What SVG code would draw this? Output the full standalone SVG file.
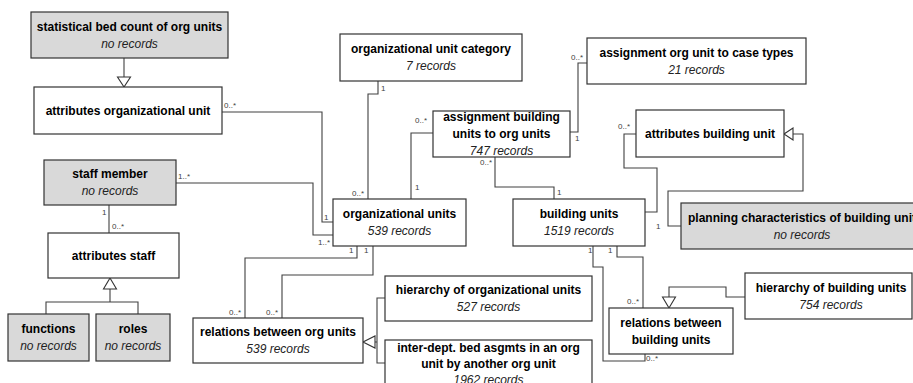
<svg xmlns="http://www.w3.org/2000/svg" width="913" height="383" viewBox="0 0 913 383">
<style>
.box{fill:#ffffff;stroke:#333333;stroke-width:1.2}
.gray{fill:#d9d9d9;stroke:#333333;stroke-width:1.2}
.t{font-family:"Liberation Sans",Arial,sans-serif;font-size:12px;font-weight:bold;fill:#000000;text-anchor:middle}
.i{font-family:"Liberation Sans",Arial,sans-serif;font-size:12px;font-style:italic;fill:#222222;text-anchor:middle}
.c{fill:none;stroke:#404040;stroke-width:1.1}
.tri{fill:#ffffff;stroke:#333333;stroke-width:1.1}
.l{font-family:"Liberation Sans",Arial,sans-serif;font-size:8px;fill:#404040}
</style>
<rect width="913" height="383" fill="#ffffff"/>
<g id="connectors">
  <path class="c" d="M222,112 H322 V222 H333"/>
  <path class="c" d="M176,183 H313 V235 H333"/>
  <path class="c" d="M378,81 V94 H368 V199"/>
  <path class="c" d="M433,133 H411 V199"/>
  <path class="c" d="M570,132 H578 V63 H587"/>
  <path class="c" d="M495,157 V187 H554 V199"/>
  <path class="c" d="M636,134 H624 V168 H657 V212 H645"/>
  <path class="c" d="M681,226 H668 V191 H803 V134 H793"/>
  <polygon class="tri" points="784,134 793,128 793,140"/>
  <path class="c" d="M357,246 V258 H245 V318"/>
  <path class="c" d="M373,246 V275 H282 V318"/>
  <path class="c" d="M385,298 H377 V363 H385 M377,342 H375"/>
  <polygon class="tri" points="363,342 375,336 375,348"/>
  <path class="c" d="M593,246 V267 H603 V361 H645 V354"/>
  <path class="c" d="M617,246 V257 H643 V308"/>
  <path class="c" d="M745,297 H726 V287 H669 V297"/>
  <polygon class="tri" points="669,308 662.5,297 675.5,297"/>
  <path class="c" d="M124,58 V77"/>
  <polygon class="tri" points="124,87 117.5,77 130.5,77"/>
  <path class="c" d="M109,205 V233"/>
  <path class="c" d="M110,289 V302 M46,314 V302 H138 V314"/>
  <polygon class="tri" points="110,278 103.5,289 116.5,289"/>
  <text class="l" x="224" y="108">0..*</text>
  <text class="l" x="324" y="220">1</text>
  <text class="l" x="178" y="179">1..*</text>
  <text class="l" x="318" y="245">1..*</text>
  <text class="l" x="381" y="91">1</text>
  <text class="l" x="352" y="196">0..*</text>
  <text class="l" x="415" y="123">0..*</text>
  <text class="l" x="415" y="190">1</text>
  <text class="l" x="575" y="141">1</text>
  <text class="l" x="571" y="60">0..*</text>
  <text class="l" x="480" y="165">0..*</text>
  <text class="l" x="557" y="195">1</text>
  <text class="l" x="618" y="129">0..*</text>
  <text class="l" x="656" y="229">1</text>
  <text class="l" x="349" y="253">1</text>
  <text class="l" x="364" y="253">1</text>
  <text class="l" x="229" y="315">0..*</text>
  <text class="l" x="266" y="315">0..*</text>
  <text class="l" x="588" y="253">1</text>
  <text class="l" x="608" y="253">1</text>
  <text class="l" x="627" y="304">0..*</text>
  <text class="l" x="646" y="361">0..*</text>
  <text class="l" x="102" y="215">1</text>
  <text class="l" x="112" y="229">0..*</text>
</g>
<g id="statBed">
  <rect class="gray" x="31" y="12" width="197" height="46"/>
  <text class="t" x="129.5" y="30.5">statistical bed count of org units</text>
  <text class="i" x="129.5" y="47.5">no records</text>
</g>
<g id="attrOrg">
  <rect class="box" x="34" y="87" width="188" height="47"/>
  <text class="t" x="128" y="115">attributes organizational unit</text>
</g>
<g id="orgCat">
  <rect class="box" x="340" y="34" width="182" height="47"/>
  <text class="t" x="431" y="53">organizational unit category</text>
  <text class="i" x="431" y="70">7 records</text>
</g>
<g id="assignBU">
  <rect class="box" x="433" y="111" width="137" height="46"/>
  <text class="t" x="501.5" y="121">assignment building</text>
  <text class="t" x="501.5" y="138">units to org units</text>
  <text class="i" x="501.5" y="155">747 records</text>
</g>
<g id="assignCase">
  <rect class="box" x="587" y="38" width="219" height="46"/>
  <text class="t" x="696.5" y="56.5">assignment org unit to case types</text>
  <text class="i" x="696.5" y="73.5">21 records</text>
</g>
<g id="attrBU">
  <rect class="box" x="636" y="110" width="148" height="47"/>
  <text class="t" x="710" y="138">attributes building unit</text>
</g>
<g id="orgUnits">
  <rect class="box" x="333" y="199" width="133" height="47"/>
  <text class="t" x="399.5" y="218">organizational units</text>
  <text class="i" x="399.5" y="235">539 records</text>
</g>
<g id="buildingUnits">
  <rect class="box" x="513" y="199" width="132" height="47"/>
  <text class="t" x="579" y="218">building units</text>
  <text class="i" x="579" y="235">1519 records</text>
</g>
<g id="planning">
  <rect class="gray" x="681" y="203" width="240" height="46"/>
  <text class="t" x="688" y="221.5" style="text-anchor:start">planning characteristics of building unit</text>
  <text class="i" x="802" y="238.5">no records</text>
</g>
<g id="staff">
  <rect class="gray" x="44" y="160" width="132" height="45"/>
  <text class="t" x="110" y="178">staff member</text>
  <text class="i" x="110" y="195">no records</text>
</g>
<g id="attrStaff">
  <rect class="box" x="48" y="233" width="131" height="45"/>
  <text class="t" x="113.5" y="259.5">attributes staff</text>
</g>
<g id="functions">
  <rect class="gray" x="8" y="314" width="81" height="47"/>
  <text class="t" x="48.5" y="333">functions</text>
  <text class="i" x="48.5" y="350">no records</text>
</g>
<g id="roles">
  <rect class="gray" x="96" y="314" width="74" height="47"/>
  <text class="t" x="133" y="333">roles</text>
  <text class="i" x="133" y="350">no records</text>
</g>
<g id="relOrg">
  <rect class="box" x="193" y="318" width="170" height="45"/>
  <text class="t" x="278" y="336">relations between org units</text>
  <text class="i" x="278" y="353">539 records</text>
</g>
<g id="hierOrg">
  <rect class="box" x="385" y="276" width="207" height="45"/>
  <text class="t" x="488.5" y="294">hierarchy of organizational units</text>
  <text class="i" x="488.5" y="311">527 records</text>
</g>
<g id="interDept">
  <rect class="box" x="385" y="340" width="207" height="50"/>
  <text class="t" x="488.5" y="352">inter-dept. bed asgmts in an org</text>
  <text class="t" x="488.5" y="368">unit by another org unit</text>
  <text class="i" x="488.5" y="384">1962 records</text>
</g>
<g id="relBU">
  <rect class="box" x="609" y="308" width="124" height="46"/>
  <text class="t" x="671" y="326.5">relations between</text>
  <text class="t" x="671" y="343.5">building units</text>
</g>
<g id="hierBU">
  <rect class="box" x="745" y="273" width="167" height="46"/>
  <text class="t" x="831" y="291.5">hierarchy of building units</text>
  <text class="i" x="831" y="308.5">754 records</text>
</g>
</svg>
